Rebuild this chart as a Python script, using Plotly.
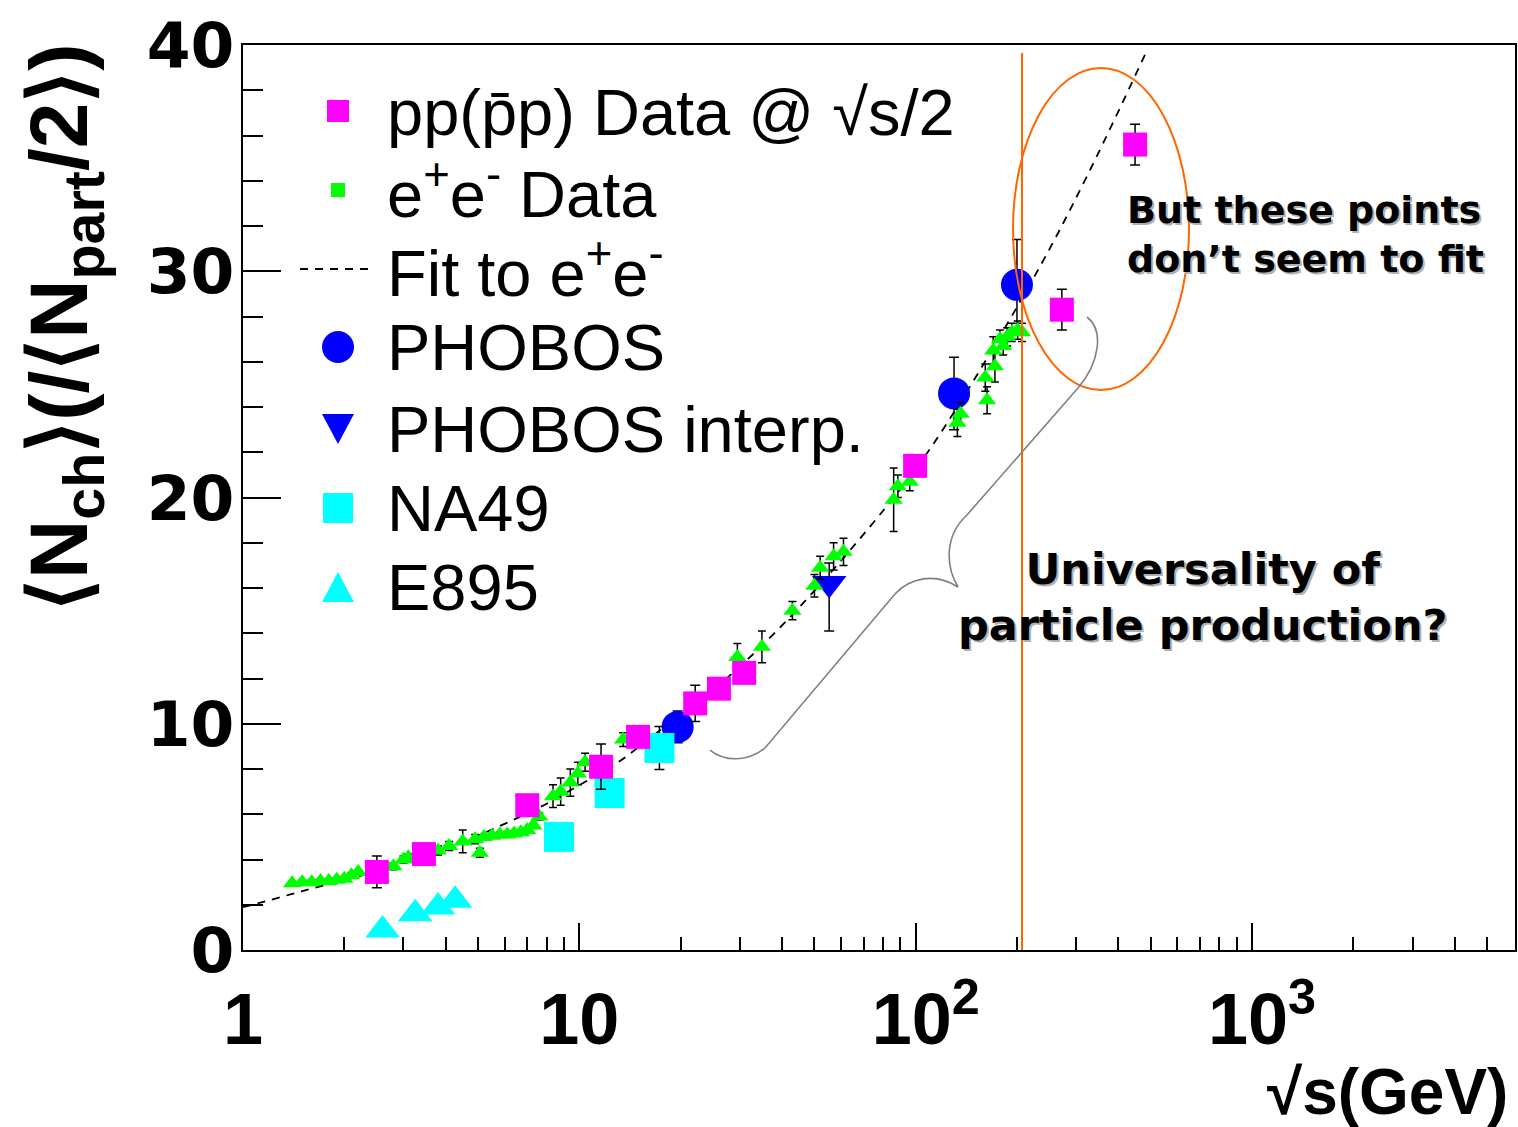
import math
import plotly.graph_objects as go

W, H = 1518, 1127
L, R, T, B = 243, 1515, 45, 950  # plot frame in pixels


def px(xp):
    return (xp - L) / (R - L)


def py(yp):
    return (B - yp) / (B - T)


# ---------------- data ----------------
pp_x = [2.5, 3.45, 7.0, 11.6, 14.95, 22.1, 26.0, 30.9, 99.6, 272, 449]
pp_y = [3.45, 4.24, 6.4, 8.1, 9.42, 10.9, 11.55, 12.25, 21.4, 28.3, 35.6]
pp_err = [0.7, 0.3, 0.3, 1.0, 0.3, 0.8, 0.3, 0.3, 0.3, 0.9, 0.9]

ee_x = [1.4, 1.5, 1.6, 1.7, 1.8, 1.9, 2.0, 2.1, 2.2,
        2.8, 3.0, 3.1,
        3.8, 4.1, 4.5, 4.9, 5.06,
        5.2, 5.5, 5.8, 6.1, 6.4, 6.7, 7.0, 7.3, 7.6,
        8.35, 8.8, 9.4, 9.9, 10.4,
        13.5,
        29.5, 34.9, 43, 50, 52, 57, 61,
        86, 88.5, 96,
        133, 136, 161, 163, 170, 172, 178, 182, 187, 193, 201, 207]
ee_y = [2.95, 3.0, 3.0, 3.05, 3.05, 3.1, 3.15, 3.3, 3.45,
        3.7, 4.0, 4.1,
        4.4, 4.6, 4.8, 4.9, 4.3,
        5.0, 5.05, 5.1, 5.1, 5.15, 5.2, 5.3, 5.5, 5.9,
        6.8, 7.0, 7.4, 7.8, 8.3,
        9.3,
        12.95, 13.4, 15.0, 16.1, 16.9, 17.4, 17.6,
        19.9, 20.5, 20.7,
        23.3, 23.7, 25.3, 24.3, 26.5, 25.8, 27.0, 26.7, 27.1, 27.3, 27.4, 27.3]
ee_err = [0.1, 0.1, 0.1, 0.1, 0.1, 0.1, 0.1, 0.1, 0.1,
          0.15, 0.15, 0.15,
          0.2, 0.2, 0.5, 0.2, 0.2,
          0.1, 0.1, 0.1, 0.1, 0.1, 0.1, 0.1, 0.1, 0.15,
          0.5, 0.6, 0.6, 0.5, 0.4,
          0.3,
          0.6, 0.7, 0.4, 0.5, 0.5, 0.6, 0.6,
          1.4, 0.5, 0.4,
          0.6, 0.5, 0.6, 0.6, 0.6, 0.7, 0.4, 0.4, 0.4, 0.4, 0.4, 0.4]

fit_x = [1.0, 1.1, 1.5, 2.2, 3.0, 3.9, 4.8, 7.6, 9.9, 12.9, 17, 25, 38.6, 73, 112, 224, 323, 485]
fit_y = [1.9, 2.05, 2.6, 3.25, 3.85, 4.45, 4.95, 6.3, 7.25, 8.25, 9.6, 11.5, 14.1, 18.7, 22.3, 29.7, 34.2, 39.7]

phobos_x = [19.6, 130, 200]
phobos_y = [9.86, 24.6, 29.4]
phobos_err = [0.7, 1.6, 2.0]

interp_x = [55.3]
interp_y = [16.2]
interp_err_plus = [0.9]
interp_err_minus = [2.1]

na49_x = [8.7, 12.3, 17.3]
na49_y = [5.0, 6.94, 8.93]
na49_err = [0.3, 0.6, 0.95]

e895_x = [2.6, 3.25, 3.8, 4.27]
e895_y = [0.88, 1.6, 1.9, 2.2]

x_major = [1, 10, 100, 1000]
x_major_text = ["1", "10", "\u00a010<sup>2</sup>", "\u00a010<sup>3</sup>"]
x_minor = [2, 3, 4, 5, 6, 7, 8, 9, 20, 30, 40, 50, 60, 70, 80, 90,
           200, 300, 400, 500, 600, 700, 800, 900, 2000, 3000, 4000, 5000]
y_major = [0, 10, 20, 30, 40]
y_minor = [2, 4, 6, 8, 12, 14, 16, 18, 22, 24, 26, 28, 32, 34, 36, 38]

# ---------------- colours ----------------
MAGENTA = "#ff00ff"
GREEN = "#00ff00"
BLUE = "#0000ff"
CYAN = "#00ffff"
ORANGE = "#ff6600"
SANS = "Arial, Liberation Sans, Helvetica, sans-serif"

fig = go.Figure()

fig.add_trace(go.Scatter(x=fit_x, y=fit_y, mode="lines", line_shape="spline",
                         line=dict(color="black", width=1.8, dash="8px,7px"),
                         hoverinfo="skip"))
fig.add_trace(go.Scatter(x=phobos_x, y=phobos_y, mode="markers",
                         marker=dict(symbol="circle", size=32, color=BLUE, line=dict(width=0)),
                         error_y=dict(type="data", array=phobos_err, color="black", thickness=1.5, width=5)))
fig.add_trace(go.Scatter(x=interp_x, y=interp_y, mode="markers",
                         marker=dict(symbol="triangle-down", size=30, color=BLUE, line=dict(width=0)),
                         error_y=dict(type="data", symmetric=False, array=interp_err_plus,
                                      arrayminus=interp_err_minus, color="black", thickness=1.5, width=5)))
fig.add_trace(go.Scatter(x=ee_x, y=ee_y, mode="markers",
                         marker=dict(symbol="triangle-up", size=16, color=GREEN, line=dict(width=0)),
                         error_y=dict(type="data", array=ee_err, color="black", thickness=1.5, width=4)))
fig.add_trace(go.Scatter(x=na49_x, y=na49_y, mode="markers",
                         marker=dict(symbol="square", size=30, color=CYAN, line=dict(width=0)),
                         error_y=dict(type="data", array=na49_err, color="black", thickness=1.5, width=5)))
fig.add_trace(go.Scatter(x=e895_x, y=e895_y, mode="markers",
                         marker=dict(symbol="triangle-up", size=30, color=CYAN, line=dict(width=0))))
fig.add_trace(go.Scatter(x=pp_x, y=pp_y, mode="markers",
                         marker=dict(symbol="square", size=24, color=MAGENTA, line=dict(width=0)),
                         error_y=dict(type="data", array=pp_err, color="black", thickness=1.5, width=5)))

# ---------------- shapes ----------------
shapes = []
shapes.append(dict(type="line", xref="paper", yref="paper", x0=px(1022), x1=px(1022),
                   y0=0, y1=py(53), line=dict(color=ORANGE, width=2)))
shapes.append(dict(type="circle", xref="paper", yref="paper", x0=px(1013), x1=px(1189),
                   y0=py(390), y1=py(68), line=dict(color=ORANGE, width=2)))


def P(xp, yp):
    return f"{px(xp):.5f},{py(yp):.5f}"


brace = (f"M {P(710,750)} C {P(725,762)} {P(748,762)} {P(765,748)} L {P(895,594)} "
         f"C {P(910,578)} {P(935,572)} {P(958,587)} C {P(945,565)} {P(945,535)} {P(967,515)} "
         f"L {P(1078,388)} C {P(1100,362)} {P(1104,330)} {P(1087,317)}")
shapes.append(dict(type="path", xref="paper", yref="paper", path=brace,
                   line=dict(color="#808080", width=1.6)))

# legend symbols
rows = [113, 190, 269, 347, 429, 508, 587]
cx = 338


def rect(x0, x1, y0, y1, color):
    return dict(type="rect", xref="paper", yref="paper", x0=px(x0), x1=px(x1),
                y0=py(y1), y1=py(y0), fillcolor=color, line=dict(width=0), layer="above")


shapes.append(rect(cx - 11, cx + 11, rows[0] - 13, rows[0] + 9, MAGENTA))
shapes.append(rect(cx - 7, cx + 7, rows[1] - 7, rows[1] + 7, GREEN))
shapes.append(dict(type="line", xref="paper", yref="paper", x0=px(300), x1=px(373),
                   y0=py(rows[2]), y1=py(rows[2]), line=dict(color="black", width=1.8, dash="8px,7px")))
shapes.append(dict(type="circle", xref="paper", yref="paper", x0=px(cx - 16), x1=px(cx + 16),
                   y0=py(rows[3] + 16), y1=py(rows[3] - 16), fillcolor=BLUE, line=dict(width=0)))
shapes.append(dict(type="path", xref="paper", yref="paper",
                   path=f"M {P(cx-16, rows[4]-15)} L {P(cx+16, rows[4]-15)} L {P(cx, rows[4]+15)} Z",
                   fillcolor=BLUE, line=dict(width=0)))
shapes.append(rect(cx - 15, cx + 15, rows[5] - 15, rows[5] + 15, CYAN))
shapes.append(dict(type="path", xref="paper", yref="paper",
                   path=f"M {P(cx-16, rows[6]+15)} L {P(cx+16, rows[6]+15)} L {P(cx, rows[6]-15)} Z",
                   fillcolor=CYAN, line=dict(width=0)))

# ---------------- annotations ----------------
LEG_FONT = dict(family=SANS, size=65, color="black")
leg_texts = ["pp(p\u0304p) Data @ \u221As/2", "e<sup>+</sup>e<sup>-</sup> Data",
             "Fit to e<sup>+</sup>e<sup>-</sup>", "PHOBOS", "PHOBOS interp.", "NA49", "E895"]
ann = []
for t, r in zip(leg_texts, rows):
    ann.append(dict(xref="paper", yref="paper", x=px(385), y=py(r), xanchor="left", yanchor="middle",
                    text=t, showarrow=False, font=LEG_FONT))

BOLD = dict(family="DejaVu Sans", size=38, color="black", weight="bold")
SHADOW = dict(family="DejaVu Sans", size=38, color="#b0b0b0", weight="bold")
for f, dx, dy in [(SHADOW, 2, -2), (BOLD, 0, 0)]:
    ann.append(dict(xref="paper", yref="paper", x=px(1125), y=py(234), xanchor="left", yanchor="middle",
                    align="left", text="But these points<br>don\u2019t seem to fit", showarrow=False,
                    font=f, xshift=dx, yshift=dy))
BOLD2 = dict(BOLD, size=43)
SHADOW2 = dict(SHADOW, size=43)
for f, dx, dy in [(SHADOW2, 2, -2), (BOLD2, 0, 0)]:
    ann.append(dict(xref="paper", yref="paper", x=px(1202), y=py(597), xanchor="center", yanchor="middle",
                    align="center", text="Universality of<br>particle production?", showarrow=False,
                    font=f, xshift=dx, yshift=dy))

# axis titles
ann.append(dict(xref="paper", yref="paper", x=px(1510), y=py(1092), xanchor="right", yanchor="middle",
                text="\u221As(GeV)", showarrow=False,
                font=dict(family=SANS, size=64, color="black", weight="bold")))
ann.append(dict(xref="paper", yref="paper", x=px(64), y=py(327), xanchor="center", yanchor="middle",
                textangle=-90,
                text="\u27e8N<sub>ch</sub>\u27e9(/\u27e8N<sub>part</sub>/2\u27e9)", showarrow=False,
                font=dict(family=SANS, size=82, color="black", weight="bold")))

fig.update_layout(
    width=W, height=H,
    margin=dict(l=L, r=W - R, t=T, b=H - B, pad=0, autoexpand=False),
    paper_bgcolor="white", plot_bgcolor="white",
    showlegend=False,
    shapes=shapes, annotations=ann,
    xaxis=dict(type="log", range=[0, math.log10(6050)], showgrid=False, zeroline=False,
               automargin=False,
               showline=True, linecolor="black", linewidth=2, mirror=True,
               ticks="inside", ticklen=27, tickwidth=1.5, tickcolor="black",
               tickmode="array", tickvals=x_major, ticktext=x_major_text,
               tickfont=dict(family=SANS, size=72, color="black", weight="bold"),
               ticklabelstandoff=6,
               minor=dict(tickmode="array", tickvals=x_minor, ticks="inside", ticklen=13,
                          tickwidth=1.5, tickcolor="black", showgrid=False)),
    yaxis=dict(range=[0, 40], showgrid=False, zeroline=False,
               automargin=False,
               showline=True, linecolor="black", linewidth=2, mirror=True,
               ticks="inside", ticklen=38, tickwidth=1.5, tickcolor="black",
               tickmode="array", tickvals=y_major, ticktext=[str(v) for v in y_major],
               tickfont=dict(family="DejaVu Sans", size=63, color="black", weight="bold"),
               ticklabelstandoff=-6,
               minor=dict(tickmode="array", tickvals=y_minor, ticks="inside", ticklen=20,
                          tickwidth=1.5, tickcolor="black", showgrid=False)),
)

fig.write_html("out.html", config={"displayModeBar": False},
               post_script="document.body.style.margin='0';document.body.style.overflow='hidden';")
